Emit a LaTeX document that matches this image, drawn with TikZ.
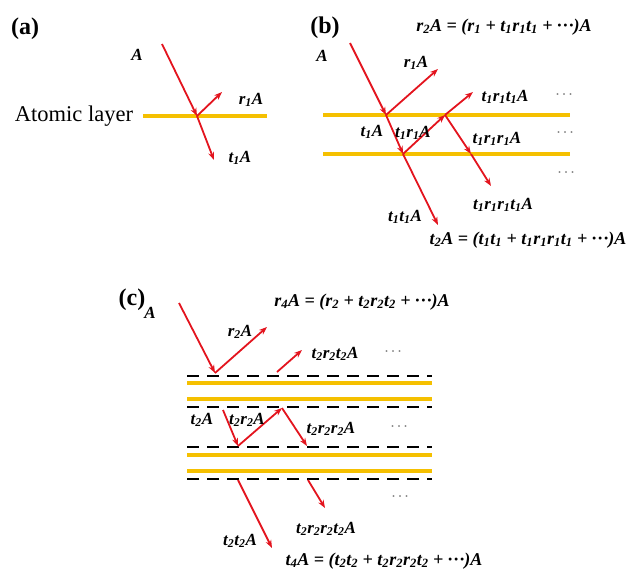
\documentclass[tikz,border=0pt]{standalone}
\usepackage{fontspec}
\setmainfont{Liberation Serif}
\usetikzlibrary{arrows.meta}
\definecolor{ray}{HTML}{E3141E}
\definecolor{layer}{HTML}{F5C000}
\newcommand\sbs[1]{\textsubscript{#1}}
\newcommand\dts{\textperiodcentered\kern1.5pt\textperiodcentered\kern1.5pt\textperiodcentered}
\tikzset{
  lbl/.style={inner sep=0pt, font=\fontsize{17}{17}\selectfont\bfseries\itshape},
  eqn/.style={inner sep=0pt, font=\fontsize{18}{18}\selectfont\bfseries\itshape},
  tag/.style={inner sep=0pt, font=\fontsize{24}{24}\selectfont\bfseries},
  more/.style={inner sep=0pt, text=black!55, font=\fontsize{15}{15}\selectfont},
  rayline/.style={draw=ray, line width=1.8pt, -{Stealth[length=8pt,width=6pt]}},
  layerline/.style={draw=layer, line width=3.5pt},
  dashline/.style={draw=black, line width=2.4pt, dash pattern=on 12pt off 8pt},
}
\begin{document}
\begin{tikzpicture}[x=1pt,y=-1pt]
\useasboundingbox (0,0) rectangle (629,573);
% ---------------- (a)
\node[tag] (ta) at (25,29) {(a)};
\node[inner sep=0pt, font=\fontsize{22.5}{22.5}\selectfont] (atl) at (74,116) {Atomic layer};
\coordinate (la1) at (143,116);
\coordinate (la2) at (267,116);
\draw[layerline] (la1) -- (la2);
\node[lbl] (aA) at (137,55) {A};
\coordinate (a0) at (162,44);
\coordinate (ah) at (197,116);
\coordinate (ar) at (222,92);
\coordinate (at) at (214,160);
\draw[rayline] (a0) -- (ah);
\draw[rayline] (ah) -- (ar);
\draw[rayline] (ah) -- (at);
\node[lbl] (ar1) at (251,100) {r\sbs{1}A};
\node[lbl] (at1) at (240,158) {t\sbs{1}A};
% ---------------- (b)
\node[tag] (tb) at (325,28) {(b)};
\node[eqn] (eqb1) at (504,27) {r\sbs{2}A = (r\sbs{1} + t\sbs{1}r\sbs{1}t\sbs{1} + \dts)A};
\node[lbl] (bA) at (322,56) {A};
\coordinate (lb1a) at (323,115); \coordinate (lb1b) at (570,115);
\coordinate (lb2a) at (323,154); \coordinate (lb2b) at (570,154);
\draw[layerline] (lb1a) -- (lb1b);
\draw[layerline] (lb2a) -- (lb2b);
\coordinate (b0) at (350,43);
\coordinate (b1) at (386,115);
\coordinate (br) at (438,69);
\coordinate (b2) at (403,154);
\coordinate (btt) at (438,225);
\coordinate (b3) at (445,115);
\coordinate (btrt) at (473,92);
\coordinate (b4) at (471,154);
\coordinate (btrrt) at (491,186);
\draw[rayline] (b0) -- (b1);
\draw[rayline] (b1) -- (br);
\draw[rayline] (b1) -- (b2);
\draw[rayline] (b2) -- (btt);
\draw[rayline] (b2) -- (b3);
\draw[rayline] (b3) -- (btrt);
\draw[rayline] (b3) -- (b4);
\draw[rayline] (b4) -- (btrrt);
\node[lbl] (br1) at (416,63) {r\sbs{1}A};
\node[lbl] (btrt1) at (505,97) {t\sbs{1}r\sbs{1}t\sbs{1}A};
\node[more] (bd1) at (564,97) {\dts};
\node[lbl] (bt1) at (372,132) {t\sbs{1}A};
\node[lbl] (btr1) at (413,133) {t\sbs{1}r\sbs{1}A};
\node[lbl] (btrr1) at (497,139) {t\sbs{1}r\sbs{1}r\sbs{1}A};
\node[more] (bd2) at (565,135) {\dts};
\node[more] (bd3) at (566,175) {\dts};
\node[lbl] (btrrt1) at (503,205) {t\sbs{1}r\sbs{1}r\sbs{1}t\sbs{1}A};
\node[lbl] (btt1) at (405,217) {t\sbs{1}t\sbs{1}A};
\node[eqn] (eqb2) at (528,240) {t\sbs{2}A = (t\sbs{1}t\sbs{1} + t\sbs{1}r\sbs{1}r\sbs{1}t\sbs{1} + \dts)A};
% ---------------- (c)
\node[tag] (tc) at (132,300) {(c)};
\node[lbl] (cA) at (150,313) {A};
\node[eqn] (eqc1) at (362,302) {r\sbs{4}A = (r\sbs{2} + t\sbs{2}r\sbs{2}t\sbs{2} + \dts)A};
\coordinate (d1a) at (187,376); \coordinate (d1b) at (432,376);
\coordinate (y1a) at (187,383); \coordinate (y1b) at (432,383);
\coordinate (y2a) at (187,399); \coordinate (y2b) at (432,399);
\coordinate (d2a) at (187,407); \coordinate (d2b) at (432,407);
\coordinate (d3a) at (187,447); \coordinate (d3b) at (432,447);
\coordinate (y3a) at (187,455); \coordinate (y3b) at (432,455);
\coordinate (y4a) at (187,471); \coordinate (y4b) at (432,471);
\coordinate (d4a) at (187,479); \coordinate (d4b) at (432,479);
\draw[dashline] (d1a) -- (d1b);
\draw[layerline, line width=4pt] (y1a) -- (y1b);
\draw[layerline, line width=4pt] (y2a) -- (y2b);
\draw[dashline] (d2a) -- (d2b);
\draw[dashline] (d3a) -- (d3b);
\draw[layerline, line width=4pt] (y3a) -- (y3b);
\draw[layerline, line width=4pt] (y4a) -- (y4b);
\draw[dashline] (d4a) -- (d4b);
\coordinate (c0) at (179,303);
\coordinate (c1) at (215,373);
\coordinate (cr) at (267,327);
\coordinate (c2s) at (277,372);
\coordinate (c2e) at (302,350);
\coordinate (c3) at (223,410);
\coordinate (c4) at (238,446);
\coordinate (c5) at (282,408);
\coordinate (c6) at (307,446);
\coordinate (c7s) at (238,480);
\coordinate (c7e) at (272,548);
\coordinate (c8s) at (308,480);
\coordinate (c8e) at (325,508);
\draw[rayline] (c0) -- (c1);
\draw[rayline] (c1) -- (cr);
\draw[rayline] (c2s) -- (c2e);
\draw[rayline] (c3) -- (c4);
\draw[rayline] (c4) -- (c5);
\draw[rayline] (c5) -- (c6);
\draw[rayline] (c7s) -- (c7e);
\draw[rayline] (c8s) -- (c8e);
\node[lbl] (cr2) at (240,332) {r\sbs{2}A};
\node[lbl] (ctrt2) at (335,354) {t\sbs{2}r\sbs{2}t\sbs{2}A};
\node[more] (cd1) at (393,354) {\dts};
\node[lbl] (ct2) at (202,420) {t\sbs{2}A};
\node[lbl] (ctr2) at (247,420) {t\sbs{2}r\sbs{2}A};
\node[lbl] (ctrr2) at (331,429) {t\sbs{2}r\sbs{2}r\sbs{2}A};
\node[more] (cd2) at (399,429) {\dts};
\node[more] (cd3) at (400,499) {\dts};
\node[lbl] (ctrrt2) at (326,529) {t\sbs{2}r\sbs{2}r\sbs{2}t\sbs{2}A};
\node[lbl] (ctt2) at (240,541) {t\sbs{2}t\sbs{2}A};
\node[eqn] (eqc2) at (384,561) {t\sbs{4}A = (t\sbs{2}t\sbs{2} + t\sbs{2}r\sbs{2}r\sbs{2}t\sbs{2} + \dts)A};
\end{tikzpicture}
\end{document}
